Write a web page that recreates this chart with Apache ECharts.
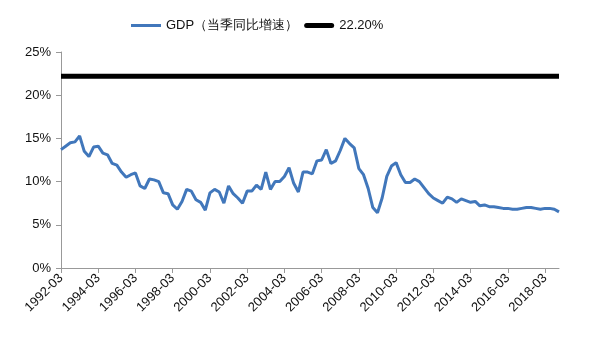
<!DOCTYPE html>
<html><head><meta charset="utf-8">
<script src="https://cdn.jsdelivr.net/npm/echarts@6/dist/echarts.min.js"></script>
<style>html,body{margin:0;padding:0;background:#fff}#c{width:600px;height:343px}</style>
</head><body><div id="c"></div>
<script>
const startYear = 1992;
const endYear = 2018;
const seriesNames = ['GDP（当季同比增速）', '22.20%'];
const gdp = [
 13.7,14.1,14.5,14.6, 15.3,13.5,12.9,14.0, 14.1,13.3,13.1,12.1, 11.9,11.1,10.5,10.8,
 11.0,9.5,9.2,10.3, 10.2,10.0,8.7,8.6, 7.3,6.8,7.7,9.1, 8.9,7.9,7.6,6.7,
 8.7,9.1,8.8,7.5, 9.5,8.6,8.1,7.5, 8.9,8.9,9.6,9.1, 11.1,9.1,10.0,10.0,
 10.6,11.6,9.8,8.8, 11.1,11.1,10.9,12.4, 12.5,13.7,12.1,12.4, 13.6,15.0,14.4,13.9,
 11.5,10.8,9.2,7.0, 6.4,8.1,10.6,11.8, 12.2,10.8,9.9,9.9, 10.3,10.0,9.3,8.6,
 8.1,7.8,7.5,8.2, 8.0,7.6,8.0,7.8, 7.6,7.7,7.2,7.3, 7.1,7.1,7.0,6.9,
 6.9,6.8,6.8,6.9, 7.0,7.0,6.9,6.8, 6.9,6.9,6.8,6.5
];
const refValue = 22.2;
const yTicks = [0, 5, 10, 15, 20, 25];

const months = ['03','06','09','12'];
const categories = [];
for (let y = startYear; y <= endYear; y++) for (const m of months) categories.push(y + '-' + m);
const refLine = categories.map(() => refValue);

const font = 'Liberation Sans, Arial, sans-serif';
const chart = echarts.init(document.getElementById('c'), null, {renderer: 'canvas'});
chart.setOption({
  animation: false,
  backgroundColor: '#fff',
  legend: {
    top: 14, left: 126, itemWidth: 30, itemHeight: 14, itemGap: 6,
    textStyle: {fontFamily: font, fontSize: 13, color: '#111'},
    data: [
      {name: seriesNames[0], icon: 'path://M0,0h30v3h-30z', itemStyle: {color: '#4177BB'}},
      {name: seriesNames[1], icon: 'path://M2.5,0h25a2.5,2.5 0 0 1 0,5h-25a2.5,2.5 0 0 1 0,-5z', itemStyle: {color: '#000'}}
    ]
  },
  grid: {left: 61, right: 41, top: 52, bottom: 75, containLabel: false},
  xAxis: {
    type: 'category', data: categories, boundaryGap: false,
    axisLine: {lineStyle: {color: '#999', width: 1}},
    axisTick: {show: true, interval: 7, length: 5, lineStyle: {color: '#999'}},
    axisLabel: {interval: 7, rotate: 45, fontFamily: font, fontSize: 13, color: '#111', margin: 8}
  },
  yAxis: {
    type: 'value', min: yTicks[0], max: yTicks[yTicks.length-1], interval: 5,
    axisLine: {show: true, lineStyle: {color: '#999'}},
    axisTick: {show: true, length: 5, lineStyle: {color: '#999'}},
    splitLine: {show: false},
    axisLabel: {formatter: '{value}%', fontFamily: font, fontSize: 13, color: '#111', margin: 10}
  },
  series: [
    {name: seriesNames[0], type: 'line', data: gdp, showSymbol: false, symbol: 'none',
     lineStyle: {color: '#4177BB', width: 3}, itemStyle: {color: '#4177BB'}, z: 3},
    {name: seriesNames[1], type: 'line', data: refLine, showSymbol: false, symbol: 'none',
     lineStyle: {color: '#000', width: 5}, itemStyle: {color: '#000'}, z: 2}
  ]
});
</script></body></html>
